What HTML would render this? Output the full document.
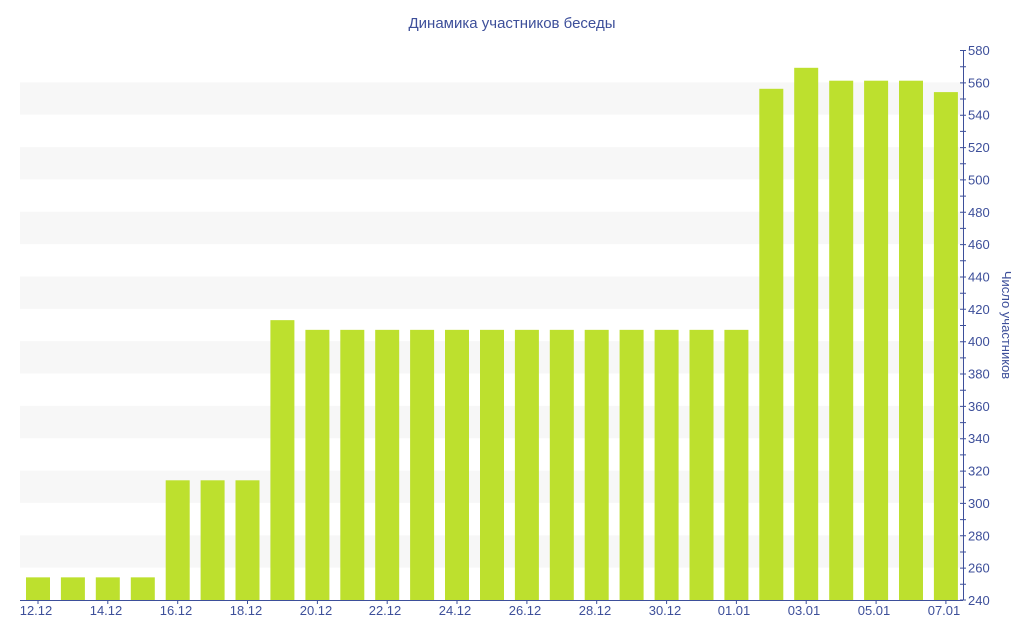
<!DOCTYPE html>
<html><head><meta charset="utf-8"><style>
html,body{margin:0;padding:0;background:#fff;}
svg{display:block;font-family:"Liberation Sans","DejaVu Sans",sans-serif;}
</style></head><body>
<svg width="1024" height="640" viewBox="0 0 1024 640" xmlns="http://www.w3.org/2000/svg">
<text x="512" y="28" text-anchor="middle" font-size="15" fill="#3d4f9a">Динамика участников беседы</text>
<g fill="#f7f7f7">
<rect x="20" y="82.35" width="943" height="32.35"/>
<rect x="20" y="147.06" width="943" height="32.35"/>
<rect x="20" y="211.76" width="943" height="32.35"/>
<rect x="20" y="276.47" width="943" height="32.35"/>
<rect x="20" y="341.18" width="943" height="32.35"/>
<rect x="20" y="405.88" width="943" height="32.35"/>
<rect x="20" y="470.59" width="943" height="32.35"/>
<rect x="20" y="535.29" width="943" height="32.35"/>
</g>
<g fill="#bde02e">
<rect x="26" y="577.35" width="24" height="22.65"/>
<rect x="60.9" y="577.35" width="24" height="22.65"/>
<rect x="95.8" y="577.35" width="24" height="22.65"/>
<rect x="130.8" y="577.35" width="24" height="22.65"/>
<rect x="165.7" y="480.3" width="24" height="119.7"/>
<rect x="200.6" y="480.3" width="24" height="119.7"/>
<rect x="235.5" y="480.3" width="24" height="119.7"/>
<rect x="270.4" y="320.15" width="24" height="279.85"/>
<rect x="305.4" y="329.85" width="24" height="270.15"/>
<rect x="340.3" y="329.85" width="24" height="270.15"/>
<rect x="375.2" y="329.85" width="24" height="270.15"/>
<rect x="410.1" y="329.85" width="24" height="270.15"/>
<rect x="445" y="329.85" width="24" height="270.15"/>
<rect x="480" y="329.85" width="24" height="270.15"/>
<rect x="514.9" y="329.85" width="24" height="270.15"/>
<rect x="549.8" y="329.85" width="24" height="270.15"/>
<rect x="584.7" y="329.85" width="24" height="270.15"/>
<rect x="619.6" y="329.85" width="24" height="270.15"/>
<rect x="654.6" y="329.85" width="24" height="270.15"/>
<rect x="689.5" y="329.85" width="24" height="270.15"/>
<rect x="724.4" y="329.85" width="24" height="270.15"/>
<rect x="759.3" y="88.8" width="24" height="511.2"/>
<rect x="794.2" y="67.8" width="24" height="532.2"/>
<rect x="829.2" y="80.7" width="24" height="519.3"/>
<rect x="864.1" y="80.7" width="24" height="519.3"/>
<rect x="899" y="80.7" width="24" height="519.3"/>
<rect x="933.9" y="92.1" width="24" height="507.9"/>
</g>
<g stroke="#3d4f9a" stroke-width="1" fill="none">
<line x1="20" y1="600.5" x2="963" y2="600.5"/>
<line x1="963.5" y1="50" x2="963.5" y2="600"/>
<path d="M960 50.5h6M960 66.7h6M960 82.9h6M960 99h6M960 115.2h6M960 131.4h6M960 147.6h6M960 163.7h6M960 179.9h6M960 196.1h6M960 212.3h6M960 228.4h6M960 244.6h6M960 260.8h6M960 277h6M960 293.2h6M960 309.3h6M960 325.5h6M960 341.7h6M960 357.9h6M960 374h6M960 390.2h6M960 406.4h6M960 422.6h6M960 438.7h6M960 454.9h6M960 471.1h6M960 487.3h6M960 503.4h6M960 519.6h6M960 535.8h6M960 552h6M960 568.1h6M960 584.3h6M960 600h6"/>
<path d="M38 600v4M107.8 600v4M177.7 600v4M247.5 600v4M317.4 600v4M387.2 600v4M457 600v4M526.9 600v4M596.7 600v4M666.6 600v4M736.4 600v4M806.2 600v4M876.1 600v4M945.9 600v4"/>
</g>
<g font-size="13" fill="#3d4f9a">
<text x="968" y="55">580</text><text x="968" y="87.4">560</text><text x="968" y="119.7">540</text>
<text x="968" y="152.1">520</text><text x="968" y="184.4">500</text><text x="968" y="216.8">480</text>
<text x="968" y="249.1">460</text><text x="968" y="281.5">440</text><text x="968" y="313.8">420</text>
<text x="968" y="346.2">400</text><text x="968" y="378.5">380</text><text x="968" y="410.9">360</text>
<text x="968" y="443.2">340</text><text x="968" y="475.6">320</text><text x="968" y="507.9">300</text>
<text x="968" y="540.3">280</text><text x="968" y="572.6">260</text><text x="968" y="605">240</text>
</g>
<g font-size="13" fill="#3d4f9a" text-anchor="middle">
<text x="36" y="615">12.12</text><text x="106" y="615">14.12</text><text x="176" y="615">16.12</text>
<text x="246" y="615">18.12</text><text x="316" y="615">20.12</text><text x="385" y="615">22.12</text>
<text x="455" y="615">24.12</text><text x="525" y="615">26.12</text><text x="595" y="615">28.12</text>
<text x="665" y="615">30.12</text><text x="734" y="615">01.01</text><text x="804" y="615">03.01</text>
<text x="874" y="615">05.01</text><text x="944" y="615">07.01</text>
</g>
<text x="0" y="0" font-size="13" fill="#3d4f9a" text-anchor="middle" transform="translate(1002 325) rotate(90)">Число участников</text>
</svg>
</body></html>
